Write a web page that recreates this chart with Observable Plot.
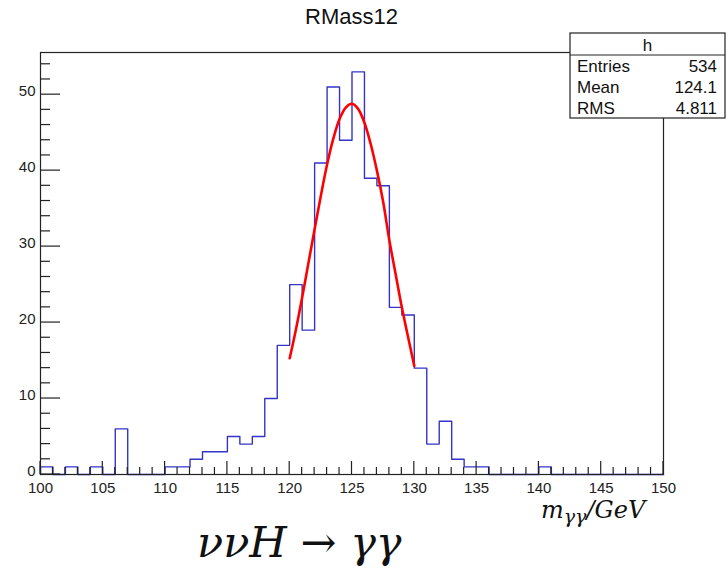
<!DOCTYPE html>
<html>
<head>
<meta charset="utf-8">
<script src="https://cdn.jsdelivr.net/npm/d3@7"></script>
<script src="https://cdn.jsdelivr.net/npm/@observablehq/plot@0.6"></script>
<style>
  html, body { margin: 0; padding: 0; background: #fff; }
  #chart { position: relative; width: 728px; height: 570px; }
</style>
</head>
<body>
<div id="chart"></div>
<script>
// ---- data ----
const binLow = d3.range(100, 150, 1); // lower bin edges, width 1 GeV
const binWidth = 1;
const counts = [
  1, 0, 1, 0, 1, 0, 6, 0, 0, 0,
  1, 1, 2, 3, 3, 5, 4, 5, 10, 17,
  25, 19, 41, 51, 44, 53, 39, 38, 22, 21,
  14, 4, 7, 2, 1, 1, 0, 0, 0, 0,
  1, 0, 0, 0, 0, 0, 0, 0, 0, 0
];
// fitted curve
const fitX = [120, 120.5, 121, 121.5, 122, 122.5, 123, 123.5, 124, 124.5, 125,
              125.5, 126, 126.5, 127, 127.5, 128, 128.5, 129, 129.5, 130];
const fitY = [15.3, 19.1, 23.3, 27.8, 32.3, 36.7, 40.8, 44.2, 46.8, 48.3, 48.8,
              48.1, 46.3, 43.5, 40.0, 35.9, 30.8, 26.4, 22.0, 18.1, 14.3];
const xMajor = [100, 105, 110, 115, 120, 125, 130, 135, 140, 145, 150];
const xMinor = d3.range(100, 151, 1);
const yMajor = [0, 10, 20, 30, 40, 50];
const yMinor = d3.range(0, 56, 2);
const title = "RMass12";
const statsName = "h";
const statsLabels = ["Entries", "Mean", "RMS"];
const statsValues = ["534", "124.1", "4.811"];

// outline path of the histogram (ROOT-style step outline)
const outline = [{x: binLow[0], y: 0}]
  .concat(binLow.map((x, i) => ({x, y: counts[i]})))
  .concat([{x: binLow[binLow.length - 1] + binWidth, y: 0}]);
const fit = fitX.map((x, i) => ({x, y: fitY[i]}));

const W = 728, H = 570;
const plot = Plot.plot({
  width: W,
  height: H,
  marginLeft: 40,
  marginRight: 65,
  marginTop: 52,
  marginBottom: 96,
  style: {fontFamily: "'Liberation Sans', Arial, sans-serif", background: "#fff", overflow: "visible"},
  x: {domain: [100, 150], label: null},
  y: {domain: [0, 55.55], label: null},
  marks: [
    Plot.line(outline, {x: "x", y: "y", curve: "step-after", stroke: "#3434c8", strokeWidth: 1.4}),
    Plot.line(fit, {x: "x", y: "y", curve: "catmull-rom", stroke: "#ff0000", strokeWidth: 2.6}),
    Plot.axisX(xMajor, {tickSize: 0, tickPadding: 8, fontSize: 15, fill: "#222", tickFormat: d => String(d), label: null}),
    Plot.axisY(yMajor, {tickSize: 0, tickPadding: 5, fontSize: 15, fill: "#222", tickFormat: d => String(d), label: null, dy: -3}),
    Plot.frame({stroke: "#222", strokeWidth: 1.2})
  ]
});

const svg = d3.select(plot);
const sx = plot.scale("x"), sy = plot.scale("y");
const y0 = sy.apply(0), x0 = sx.apply(100);
const gt = svg.append("g").attr("stroke", "#222").attr("stroke-width", 1.2);
// x ticks drawn inward (upward)
xMinor.forEach(v => {
  const L = xMajor.includes(v) ? 13 : 7;
  gt.append("line").attr("x1", sx.apply(v)).attr("x2", sx.apply(v)).attr("y1", y0).attr("y2", y0 - L);
});
// y ticks drawn inward (rightward)
yMinor.forEach(v => {
  const L = yMajor.includes(v) ? 20 : 10;
  gt.append("line").attr("y1", sy.apply(v)).attr("y2", sy.apply(v)).attr("x1", x0).attr("x2", x0 + L);
});

// title
svg.append("text").attr("x", (sx.apply(100) + sx.apply(150)) / 2).attr("y", 24)
  .attr("text-anchor", "middle").attr("font-size", 22).attr("fill", "#111")
  .attr("font-family", "'Liberation Sans', Arial, sans-serif").text(title);

// stats box
const bx = 570, by = 33, bw = 155, bh = 85, hh = 22;
const gs = svg.append("g").attr("font-family", "'Liberation Sans', Arial, sans-serif").attr("font-size", 17).attr("fill", "#111");
gs.append("rect").attr("x", bx).attr("y", by).attr("width", bw).attr("height", bh)
  .attr("fill", "#fff").attr("stroke", "#222").attr("stroke-width", 1.2);
gs.append("line").attr("x1", bx).attr("x2", bx + bw).attr("y1", by + hh).attr("y2", by + hh)
  .attr("stroke", "#222").attr("stroke-width", 1.2);
gs.append("text").attr("x", bx + bw / 2).attr("y", by + 18).attr("text-anchor", "middle").text(statsName);
statsLabels.forEach((lab, i) => {
  const yb = 72 + i * 20.8;
  gs.append("text").attr("x", bx + 7).attr("y", yb).attr("text-anchor", "start").text(lab);
  gs.append("text").attr("x", bx + bw - 8).attr("y", yb).attr("text-anchor", "end").text(statsValues[i]);
});

// x-axis label  m_{γγ}/GeV
const xl = svg.append("text").attr("x", 541).attr("y", 518).attr("text-anchor", "start")
  .attr("font-family", "'DejaVu Serif', 'Liberation Serif', serif").attr("font-style", "italic")
  .attr("font-size", 24).attr("fill", "#111");
xl.append("tspan").text("m");
xl.append("tspan").attr("font-size", 19).attr("dy", 5).text("γγ");
xl.append("tspan").attr("dy", -5).text("/GeV");

// process label
const pl = svg.append("text").attr("x", 197).attr("y", 557).attr("text-anchor", "start")
  .attr("font-family", "'DejaVu Serif', 'Liberation Serif', serif")
  .attr("font-size", 43).attr("fill", "#111");
pl.append("tspan").attr("font-style", "italic").text("ννH");
pl.append("tspan").text(" → ");
pl.append("tspan").attr("font-style", "italic").text("γγ");

document.getElementById("chart").appendChild(plot);
</script>
</body>
</html>
